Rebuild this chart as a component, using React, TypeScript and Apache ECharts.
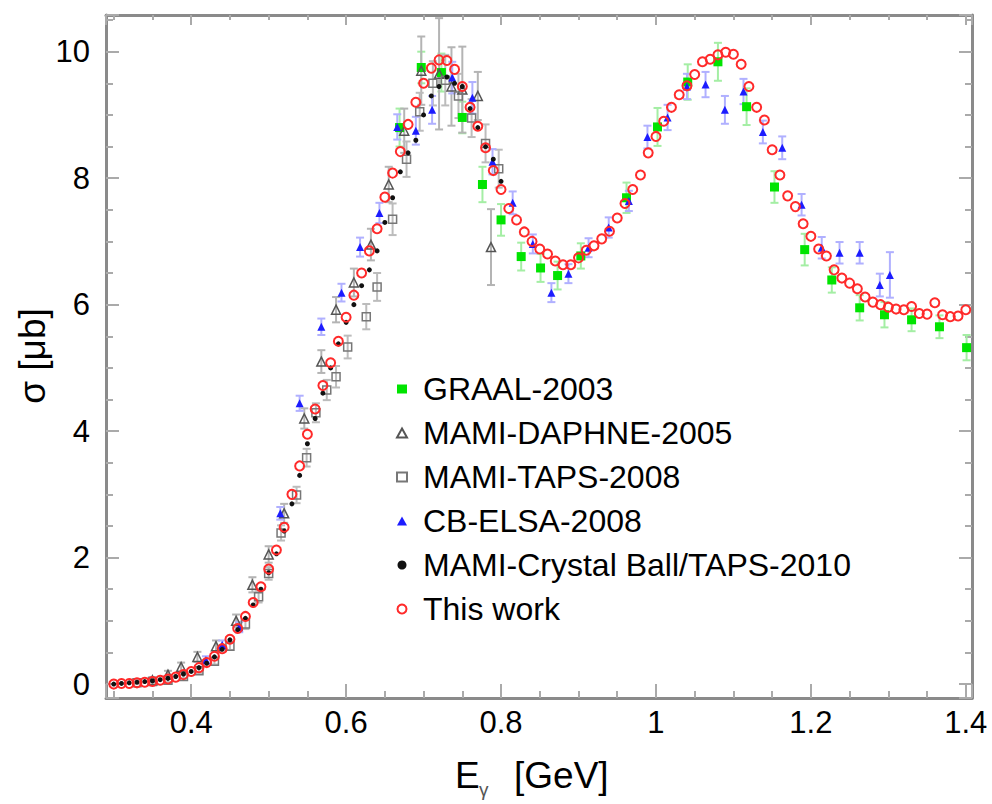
import React, { useEffect, useRef } from 'react';
import * as echarts from 'echarts';

const FONT = '"Liberation Sans", Arial, Helvetica, sans-serif';

// ---------- This work (red open circles) ----------
const thisWorkE = [
  0.30, 0.31, 0.32, 0.33, 0.34, 0.35, 0.36, 0.37, 0.38, 0.39,
  0.40, 0.41, 0.42, 0.43, 0.44, 0.45, 0.46, 0.47, 0.48, 0.49,
  0.50, 0.51, 0.52, 0.53, 0.54, 0.55, 0.56, 0.57, 0.58, 0.59,
  0.60, 0.61, 0.62, 0.63, 0.64, 0.65, 0.66, 0.67, 0.68, 0.69,
  0.70, 0.71, 0.72, 0.73, 0.74, 0.75, 0.76, 0.77, 0.78, 0.79,
  0.80, 0.81, 0.82, 0.83, 0.84, 0.85, 0.86, 0.87, 0.88, 0.89,
  0.90, 0.91, 0.92, 0.93, 0.94, 0.95, 0.96, 0.97, 0.98, 0.99,
  1.00, 1.01, 1.02, 1.03, 1.04, 1.05, 1.06, 1.07, 1.08, 1.09,
  1.10, 1.11, 1.12, 1.13, 1.14, 1.15, 1.16, 1.17, 1.18, 1.19,
  1.20, 1.21, 1.22, 1.23, 1.24, 1.25, 1.26, 1.27, 1.28, 1.29,
  1.30, 1.31, 1.32, 1.33, 1.34, 1.35, 1.36, 1.37, 1.38, 1.39, 1.40,
];
const thisWorkSigma = [
  0.00, 0.01, 0.01, 0.02, 0.03, 0.04, 0.06, 0.08, 0.11, 0.15,
  0.20, 0.26, 0.34, 0.44, 0.56, 0.71, 0.88, 1.07, 1.29, 1.54,
  1.82, 2.12, 2.48, 3.00, 3.45, 3.95, 4.35, 4.72, 5.08, 5.42,
  5.80, 6.15, 6.50, 6.85, 7.20, 7.70, 8.08, 8.42, 8.85, 9.20,
  9.50, 9.74, 9.87, 9.86, 9.72, 9.45, 9.12, 8.82, 8.48, 8.12,
  7.82, 7.52, 7.34, 7.15, 7.00, 6.88, 6.80, 6.69, 6.63, 6.63,
  6.74, 6.86, 6.93, 7.04, 7.16, 7.37, 7.60, 7.82, 8.05, 8.40,
  8.66, 8.90, 9.12, 9.32, 9.46, 9.64, 9.84, 9.88, 9.95, 9.99,
  9.96, 9.80, 9.45, 9.12, 8.92, 8.45, 8.05, 7.72, 7.55, 7.28,
  7.08, 6.88, 6.77, 6.55, 6.42, 6.34, 6.25, 6.12, 6.04, 6.00,
  5.96, 5.93, 5.92, 5.97, 5.86, 5.85, 6.03, 5.84, 5.81, 5.82, 5.92,
];

// ---------- GRAAL-2003 (green squares) ----------
const graalE = [0.669, 0.697, 0.723, 0.750, 0.776, 0.800, 0.826, 0.851, 0.873, 0.903, 0.962, 1.002, 1.041, 1.080, 1.117, 1.153, 1.192, 1.227, 1.263, 1.295, 1.330, 1.366, 1.401];
const graalSigma = [8.80, 9.75, 9.67, 8.96, 7.90, 7.34, 6.76, 6.58, 6.46, 6.77, 7.69, 8.81, 9.52, 9.84, 9.13, 7.86, 6.87, 6.39, 5.95, 5.84, 5.76, 5.65, 5.32];
const graalErr = [0.30, 0.25, 0.30, 0.25, 0.28, 0.25, 0.22, 0.22, 0.22, 0.20, 0.24, 0.30, 0.28, 0.30, 0.29, 0.25, 0.25, 0.20, 0.20, 0.20, 0.18, 0.18, 0.20];

// ---------- MAMI-DAPHNE-2005 (gray open triangles) ----------
const daphneE = [0.350, 0.370, 0.387, 0.408, 0.432, 0.458, 0.479, 0.500, 0.520, 0.546, 0.568, 0.587, 0.610, 0.632, 0.655, 0.675, 0.697, 0.720, 0.736, 0.750, 0.770, 0.787];
const daphneSigma = [0.06, 0.15, 0.27, 0.43, 0.60, 1.00, 1.57, 2.05, 2.70, 4.20, 5.10, 5.92, 6.35, 6.95, 7.90, 8.75, 9.70, 9.65, 9.45, 9.40, 9.30, 6.91];
const daphneErr = [0.05, 0.06, 0.07, 0.08, 0.09, 0.10, 0.12, 0.13, 0.15, 0.16, 0.18, 0.20, 0.22, 0.25, 0.28, 0.35, 0.54, 0.88, 0.62, 0.68, 0.38, 0.60];

// ---------- MAMI-TAPS-2008 (gray open squares) ----------
const tapsE = [0.330, 0.350, 0.370, 0.390, 0.410, 0.430, 0.450, 0.470, 0.487, 0.500, 0.516, 0.536, 0.549, 0.561, 0.575, 0.587, 0.602, 0.626, 0.640, 0.660, 0.678, 0.695, 0.712, 0.728, 0.745, 0.762, 0.780, 0.797];
const tapsSigma = [0.02, 0.04, 0.06, 0.12, 0.21, 0.36, 0.60, 0.95, 1.38, 1.75, 2.39, 2.99, 3.58, 4.29, 4.65, 4.86, 5.33, 5.81, 6.28, 7.35, 8.30, 9.05, 9.50, 9.55, 9.30, 8.95, 8.55, 8.15];
const tapsErr = [0.02, 0.02, 0.03, 0.03, 0.04, 0.05, 0.06, 0.08, 0.09, 0.10, 0.12, 0.13, 0.14, 0.15, 0.16, 0.17, 0.18, 0.20, 0.22, 0.25, 0.28, 0.30, 0.35, 0.40, 0.35, 0.30, 0.30, 0.30];

// ---------- CB-ELSA-2008 (blue triangles) ----------
const elsaE = [0.419, 0.440, 0.462, 0.515, 0.540, 0.568, 0.594, 0.618, 0.643, 0.666, 0.690, 0.711, 0.737, 0.763, 0.789, 0.815, 0.841, 0.865, 0.887, 0.913, 0.939, 0.965, 0.989, 1.015, 1.040, 1.064, 1.089, 1.113, 1.138, 1.163, 1.188, 1.214, 1.237, 1.263, 1.289, 1.302];
const elsaSigma = [0.38, 0.62, 0.90, 2.70, 4.44, 5.65, 6.19, 6.91, 7.45, 8.81, 8.75, 9.08, 9.59, 9.27, 8.26, 7.61, 6.96, 6.19, 6.49, 6.90, 7.22, 7.64, 8.65, 8.96, 9.45, 9.48, 9.08, 9.37, 8.73, 8.48, 7.58, 6.90, 6.82, 6.82, 6.31, 6.47];
const elsaErr = [0.06, 0.07, 0.08, 0.10, 0.12, 0.13, 0.14, 0.15, 0.16, 0.20, 0.22, 0.22, 0.25, 0.25, 0.20, 0.18, 0.15, 0.15, 0.15, 0.15, 0.16, 0.16, 0.18, 0.20, 0.20, 0.20, 0.22, 0.20, 0.18, 0.18, 0.17, 0.17, 0.17, 0.17, 0.18, 0.36];

// ---------- MAMI-Crystal Ball/TAPS-2010 (black dots) ----------
const cbE = [
  0.30, 0.31, 0.32, 0.33, 0.34, 0.35, 0.36, 0.37, 0.38, 0.39,
  0.40, 0.41, 0.42, 0.43, 0.44, 0.45, 0.46, 0.47, 0.48, 0.49,
  0.50, 0.51, 0.52, 0.53, 0.54, 0.55, 0.56, 0.57, 0.58, 0.59,
  0.60, 0.61, 0.62, 0.63, 0.64, 0.65, 0.66, 0.67, 0.68, 0.69,
  0.70, 0.71, 0.72, 0.73, 0.74, 0.75, 0.76, 0.77, 0.78, 0.79, 0.80,
];
const cbSigma = [
  0.00, 0.01, 0.02, 0.03, 0.04, 0.05, 0.07, 0.09, 0.12, 0.16,
  0.20, 0.26, 0.33, 0.43, 0.55, 0.70, 0.86, 1.04, 1.25, 1.50,
  1.76, 2.06, 2.42, 2.85, 3.30, 3.80, 4.20, 4.60, 5.00, 5.38,
  5.72, 6.00, 6.30, 6.55, 6.85, 7.30, 7.69, 8.10, 8.40, 8.60,
  9.00, 9.30, 9.45, 9.60, 9.50, 9.45, 9.10, 8.80, 8.50, 8.30, 7.95,
];

// ---------- axes ----------
const xMin = 0.29;
const xMax = 1.408;
const yMin = -0.22;
const yMax = 10.58;

const pairs = (xs: number[], ys: number[]) => xs.map((x, i) => [x, ys[i]]);
const bars = (xs: number[], ys: number[], es: number[]) => xs.map((x, i) => [x, ys[i] - es[i], ys[i] + es[i]]);

function errorBarSeries(data: number[][], color: string) {
  return {
    type: 'custom',
    silent: true,
    clip: true,
    z: 1,
    data,
    encode: { x: 0, y: [1, 2] },
    renderItem: (_params: any, api: any) => {
      const x = api.value(0);
      const lo = api.coord([x, api.value(1)]);
      const hi = api.coord([x, api.value(2)]);
      const cap = 4;
      const style = { stroke: color, lineWidth: 2 };
      return {
        type: 'group',
        children: [
          { type: 'line', shape: { x1: lo[0], y1: lo[1], x2: hi[0], y2: hi[1] }, style },
          { type: 'line', shape: { x1: lo[0] - cap, y1: lo[1], x2: lo[0] + cap, y2: lo[1] }, style },
          { type: 'line', shape: { x1: hi[0] - cap, y1: hi[1], x2: hi[0] + cap, y2: hi[1] }, style },
        ],
      };
    },
  };
}

const isMultiple = (v: number, step: number) => Math.abs(v / step - Math.round(v / step)) < 1e-6;

const frameLine = { show: true, onZero: false, lineStyle: { color: '#8a8a8a', width: 3 } };
const tickStyle = { color: '#aaaaaa', width: 2 };

export default function App() {
  const ref = useRef<HTMLDivElement>(null);

  useEffect(() => {
    if (!ref.current) return;
    const chart = echarts.init(ref.current, undefined, { renderer: 'svg' });

    const legendNames = [
      'GRAAL-2003',
      'MAMI-DAPHNE-2005',
      'MAMI-TAPS-2008',
      'CB-ELSA-2008',
      'MAMI-Crystal Ball/TAPS-2010',
      'This work',
    ];

    const option: any = {
      animation: false,
      backgroundColor: '#ffffff',
      grid: { left: 106, right: 20, top: 15, bottom: 106, containLabel: false },
      xAxis: [
        {
          type: 'value',
          min: xMin,
          max: xMax,
          position: 'bottom',
          axisLine: frameLine,
          axisTick: { show: true, inside: true, length: 14, lineStyle: tickStyle },
          minorTick: { show: true, splitNumber: 4, length: 7, lineStyle: tickStyle },
          splitLine: { show: false },
          axisLabel: {
            show: true,
            margin: 9,
            fontSize: 31,
            color: '#000',
            fontFamily: FONT,
            showMinLabel: false,
            showMaxLabel: false,
            formatter: (v: number) => (isMultiple(v, 0.2) ? String(+v.toFixed(1)) : ''),
          },
        },
        {
          type: 'value',
          min: xMin,
          max: xMax,
          position: 'top',
          axisLine: frameLine,
          axisTick: { show: true, inside: true, length: 10, lineStyle: tickStyle },
          minorTick: { show: true, splitNumber: 4, length: 5, lineStyle: tickStyle },
          splitLine: { show: false },
          axisLabel: { show: false },
        },
      ],
      yAxis: [
        {
          type: 'value',
          min: yMin,
          max: yMax,
          position: 'left',
          axisLine: frameLine,
          axisTick: { show: true, inside: true, length: 13, lineStyle: tickStyle },
          minorTick: { show: true, splitNumber: 4, length: 7, lineStyle: tickStyle },
          splitLine: { show: false },
          axisLabel: {
            show: true,
            margin: 16,
            fontSize: 31,
            color: '#000',
            fontFamily: FONT,
            showMinLabel: false,
            showMaxLabel: false,
            formatter: (v: number) => (isMultiple(v, 2) ? String(Math.round(v)) : ''),
          },
        },
        {
          type: 'value',
          min: yMin,
          max: yMax,
          position: 'right',
          axisLine: frameLine,
          axisTick: { show: true, inside: true, length: 13, lineStyle: tickStyle },
          minorTick: { show: true, splitNumber: 4, length: 7, lineStyle: tickStyle },
          splitLine: { show: false },
          axisLabel: { show: false },
        },
      ],
      legend: {
        data: legendNames,
        orient: 'vertical',
        left: 391,
        top: 368,
        itemWidth: 10,
        itemHeight: 9,
        itemGap: 12,
        selectedMode: false,
        textStyle: { fontSize: 32, color: '#000', fontFamily: FONT, padding: [0, 0, 0, 11] },
      },
      graphic: [
        {
          type: 'text',
          x: 32,
          y: 356,
          rotation: Math.PI / 2,
          style: { text: 'σ [μb]', fontSize: 37, fontFamily: FONT, fill: '#000', align: 'center', verticalAlign: 'middle' },
        },
        {
          type: 'text',
          x: 455,
          y: 775,
          style: { text: 'E', fontSize: 37, fontFamily: FONT, fill: '#000', align: 'left', verticalAlign: 'middle' },
        },
        {
          type: 'text',
          x: 479,
          y: 789,
          style: { text: 'γ', fontSize: 19, fontFamily: FONT, fill: '#555', align: 'left', verticalAlign: 'middle' },
        },
        {
          type: 'text',
          x: 514,
          y: 775,
          style: { text: '[GeV]', fontSize: 37, fontFamily: FONT, fill: '#000', align: 'left', verticalAlign: 'middle' },
        },
      ],
      series: [
        errorBarSeries(bars(graalE, graalSigma, graalErr), '#a4eea4'),
        errorBarSeries(bars(daphneE, daphneSigma, daphneErr), '#b4b4b4'),
        errorBarSeries(bars(tapsE, tapsSigma, tapsErr), '#bcbcbc'),
        errorBarSeries(bars(elsaE, elsaSigma, elsaErr), '#b0b0ff'),
        {
          name: 'GRAAL-2003',
          type: 'scatter',
          symbol: 'rect',
          symbolSize: 9,
          z: 3,
          itemStyle: { color: '#00e400', opacity: 1 },
          data: pairs(graalE, graalSigma),
        },
        {
          name: 'MAMI-DAPHNE-2005',
          type: 'scatter',
          symbol: 'triangle',
          symbolSize: 9,
          z: 3,
          itemStyle: { color: 'rgba(255,255,255,0)', borderColor: '#555555', borderWidth: 1.5, opacity: 1 },
          data: pairs(daphneE, daphneSigma),
        },
        {
          name: 'MAMI-TAPS-2008',
          type: 'scatter',
          symbol: 'rect',
          symbolSize: 8,
          z: 3,
          itemStyle: { color: 'rgba(255,255,255,0)', borderColor: '#777777', borderWidth: 1.5, opacity: 1 },
          data: pairs(tapsE, tapsSigma),
        },
        {
          name: 'CB-ELSA-2008',
          type: 'scatter',
          symbol: 'triangle',
          symbolSize: 8,
          z: 3,
          itemStyle: { color: '#1c1cff', opacity: 1 },
          data: pairs(elsaE, elsaSigma),
        },
        {
          name: 'MAMI-Crystal Ball/TAPS-2010',
          type: 'scatter',
          symbol: 'circle',
          symbolSize: 5,
          z: 3,
          itemStyle: { color: '#111111', opacity: 1 },
          data: pairs(cbE, cbSigma),
        },
        {
          name: 'This work',
          type: 'scatter',
          symbol: 'circle',
          symbolSize: 9,
          z: 4,
          itemStyle: { color: 'rgba(255,255,255,0)', borderColor: '#ff2a2a', borderWidth: 2, opacity: 1 },
          data: pairs(thisWorkE, thisWorkSigma),
        },
      ],
    };

    chart.setOption(option);
    return () => {
      chart.dispose();
    };
  }, []);

  return (
    <div
      ref={ref}
      style={{ position: 'absolute', left: 0, top: 0, width: 992, height: 804, background: '#fff' }}
    />
  );
}
